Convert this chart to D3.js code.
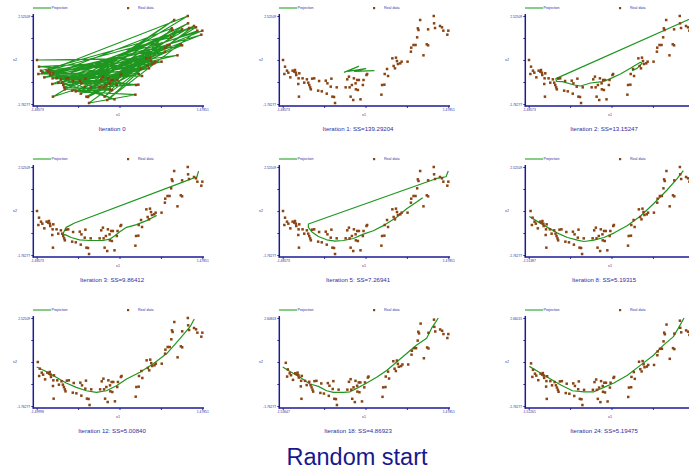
<!DOCTYPE html>
<html>
<head>
<meta charset="utf-8">
<script src="https://cdn.jsdelivr.net/npm/d3@7"></script>
<style>
  html, body { margin: 0; padding: 0; background: #fff; }
  svg { display: block; font-family: "Liberation Sans", Arial, sans-serif; }
</style>
</head>
<body>
<svg id="chart" width="689" height="472"></svg>
<script>
// Observed data (x1, x2)
const realX = [-1.480,-1.444,-1.409,-1.456,-1.385,-1.349,-1.308,-1.278,-1.266,-1.249,-1.189,-1.243,-1.201,-1.130,-1.100,-1.207,-1.053,-1.029,-1.011,-0.994,-0.982,-0.958,-0.922,-1.195,-0.834,-0.851,-0.786,-0.715,-0.685,-0.697,-0.626,-0.614,-0.596,-0.567,-0.519,-0.549,-0.359,-0.330,-0.300,-0.288,-0.270,-0.247,-0.223,-0.211,-0.181,-0.176,-0.152,-0.140,-0.122,-0.093,-0.051,-0.039,0.014,0.026,0.281,0.293,0.334,0.340,0.382,0.400,0.477,0.500,0.524,0.542,0.560,0.577,0.619,0.643,0.749,0.809,0.815,0.856,0.892,0.921,0.933,0.945,0.975,1.034,1.093,1.117,1.117,1.218,1.224,1.241,1.330,1.366,1.390,1.461,1.479];
const realY = [0.381,0.056,-0.139,-0.301,-0.236,-0.464,-0.139,-0.187,-0.106,-0.236,-0.268,-0.350,-0.512,-0.512,-0.723,-0.788,-0.561,-0.723,-0.837,-0.951,-1.048,-0.528,-0.512,-1.405,-0.642,-1.113,-1.146,-0.626,-0.756,-1.259,-0.918,-0.528,-1.405,-1.422,-0.951,-1.714,-0.951,-0.561,-0.431,-0.951,-1.405,-0.837,-1.568,-0.512,-0.756,-1.048,-0.593,-1.081,-0.593,-1.535,-0.837,-0.593,-0.350,-0.301,-1.308,-0.837,-0.821,-0.301,-0.057,-0.398,0.462,0.089,-0.025,0.495,0.332,0.186,0.219,0.300,0.300,0.787,0.982,1.112,1.112,1.486,1.924,1.843,2.330,0.609,1.145,1.096,1.875,2.525,2.168,1.940,2.038,1.973,1.810,1.615,1.810];

// Panel titles and axis extents
const titles = ["Iteration 0", "Iteration 1: SS=139.29204", "Iteration 2: SS=13.15247",
  "Iteration 3: SS=9.86412", "Iteration 5: SS=7.26941", "Iteration 8: SS=5.19315",
  "Iteration 12: SS=5.00840", "Iteration 18: SS=4.86923", "Iteration 24: SS=5.19475"];
const xMins = [-1.48573, -1.48573, -1.48573, -1.48573, -1.48573, -1.51387, -1.49998, -1.53647, -1.52261];
const xMaxs = [1.47851, 1.47851, 1.47851, 1.47851, 1.47851, 1.47851, 1.47851, 1.47851, 1.47851];
const yMins = [-1.76277, -1.76277, -1.76277, -1.76277, -1.76277, -1.76277, -1.76277, -1.76277, -1.76277];
const yMaxs = [2.52509, 2.52509, 2.52509, 2.52509, 2.52509, 2.52509, 2.52509, 2.60803, 2.66015];
const xMinLabels = ["-1.48573", "-1.48573", "-1.48573", "-1.48573", "-1.48573", "-1.51387", "-1.49998", "-1.53647", "-1.52261"];
const xMaxLabels = ["1.47851", "1.47851", "1.47851", "1.47851", "1.47851", "1.47851", "1.47851", "1.47851", "1.47851"];
const yMinLabels = ["-1.76277", "-1.76277", "-1.76277", "-1.76277", "-1.76277", "-1.76277", "-1.76277", "-1.76277", "-1.76277"];
const yMaxLabels = ["2.52509", "2.52509", "2.52509", "2.52509", "2.52509", "2.52509", "2.52509", "2.60803", "2.66015"];
const legendLabels = ["Projection", "Real data"];
const axisTitles = ["x1", "x2"];
const footer = "Random start";

// Iteration 0: random assignment of projection nodes to data points (visit order)
const startOrder = [0, 60, 14, 77, 3, 52, 23, 81, 8, 45, 19, 70, 33, 66, 5, 88, 27, 58, 40, 74, 11, 63, 36, 85, 2, 49, 17, 72, 29, 61, 43, 79, 7, 55, 21, 68, 38, 83, 13, 47, 25, 76, 31, 57, 1, 64, 42, 86, 16, 53, 34, 71, 9, 59, 22, 80, 46, 67, 4, 50, 28, 75, 37, 62, 12, 87, 20, 56, 44, 73, 6, 65, 30, 82, 18, 51, 39, 69, 10, 78, 26, 54, 35, 84, 15, 48, 24, 41, 32];

// Projection curves for later iterations
const proj1 = [[-0.389,-0.220],[-0.128,0.073],[-0.318,-0.171],[0.000,-0.041],[-0.199,-0.171],[0.156,-0.139]];
const proj2 = [[1.532,2.541],[-1.000,-0.528],[-0.988,-0.658],[-0.881,-0.675],[-0.673,-0.837],[-0.555,-0.886],[-0.377,-0.740],[-0.170,-0.675],[-0.051,-0.561],[0.156,-0.301],[0.334,-0.025],[0.512,0.268],[0.542,0.219],[0.453,-0.025],[0.364,-0.139]];
const proj3 = [[1.412,2.328],[1.382,2.049],[1.142,1.802],[-0.808,-0.202],[-0.958,-0.416],[-1.018,-0.744],[-0.958,-0.793],[-0.868,-0.908],[-0.718,-1.023],[-0.538,-1.056],[-0.298,-1.056],[-0.178,-0.991],[-0.088,-0.826],[0.002,-0.629],[0.122,-0.416],[0.302,-0.284],[0.482,-0.087],[0.662,0.159]];
const proj5 = [[1.478,2.328],[1.437,2.049],[1.270,1.967],[-1.026,-0.251],[-1.026,-0.416],[-0.967,-0.629],[-0.848,-0.859],[-0.698,-1.023],[-0.549,-1.089],[-0.400,-1.056],[-0.221,-0.958],[-0.042,-0.744],[0.136,-0.580],[0.315,-0.333],[0.554,0.077],[0.733,0.488],[0.912,0.817],[1.019,1.030]];
const proj8 = [[-1.502,0.110],[-1.352,-0.136],[-1.173,-0.416],[-0.993,-0.695],[-0.814,-0.909],[-0.634,-1.040],[-0.515,-1.106],[-0.335,-1.040],[-0.155,-0.909],[0.024,-0.695],[0.264,-0.334],[0.503,0.127],[0.742,0.734],[0.982,1.392],[1.161,1.934],[1.281,2.345]];
const proj12 = [[-1.500,0.134],[-1.331,-0.081],[-1.150,-0.361],[-0.969,-0.641],[-0.789,-0.856],[-0.608,-1.021],[-0.427,-1.103],[-0.246,-1.021],[-0.065,-0.773],[0.116,-0.443],[0.357,-0.114],[0.598,0.299],[0.839,0.793],[1.081,1.535],[1.262,2.113],[1.334,2.475]];
const proj18 = [[-1.536,0.170],[-1.403,-0.048],[-1.221,-0.334],[-1.039,-0.670],[-0.887,-0.788],[-0.736,-1.006],[-0.614,-1.090],[-0.432,-1.090],[-0.311,-1.057],[-0.190,-0.889],[-0.038,-0.670],[0.174,-0.334],[0.356,0.002],[0.538,0.423],[0.720,0.843],[0.902,1.263],[1.084,1.599],[1.175,2.104],[1.297,2.608]];
const proj24 = [[-1.511,0.228],[-1.331,-0.062],[-1.150,-0.368],[-0.940,-0.708],[-0.730,-0.997],[-0.520,-1.049],[-0.340,-1.049],[-0.160,-0.827],[0.020,-0.606],[0.260,-0.232],[0.500,0.278],[0.740,0.789],[0.920,1.299],[1.100,1.724],[1.190,2.150],[1.292,2.660]];

const realPts = realX.map((x, i) => [x, realY[i]]);
const projections = [startOrder.map(i => realPts[i]), proj1, proj2, proj3, proj5, proj8, proj12, proj18, proj24];

const AXIS = "#1b1b96";
const TEXT = "#2e2ea2";
const GREEN = "#1f961f";
const BROWN = "#8a4514";

const svg = d3.select("#chart");

titles.forEach((title, k) => {
  const col = k % 3, row = Math.floor(k / 3);
  const ox = col * 246, oy = row * 151;
  const g = svg.append("g").attr("transform", `translate(${ox},${oy})`);

  const x = d3.scaleLinear().domain([xMins[k], xMaxs[k]]).range([36.7, 202.3]);
  const y = d3.scaleLinear().domain([yMins[k], yMaxs[k]]).range([104, 16]);

  // Legend
  g.append("line").attr("x1", 33).attr("x2", 51).attr("y1", 8).attr("y2", 8)
    .attr("stroke", "#3aaa3a").attr("stroke-width", 1.2);
  g.append("text").attr("x", 51.5).attr("y", 9.2).attr("font-size", 3.6).attr("fill", TEXT).text(legendLabels[0]);
  g.append("rect").attr("x", 127).attr("y", 7).attr("width", 2.2).attr("height", 2.2).attr("fill", BROWN);
  g.append("text").attr("x", 138).attr("y", 9.2).attr("font-size", 3.6).attr("fill", TEXT).text(legendLabels[1]);

  // Axes
  const xTicks = d3.range(5).map(i => xMins[k] + i * (xMaxs[k] - xMins[k]) / 4);
  const yTicks = d3.range(5).map(i => yMins[k] + i * (yMaxs[k] - yMins[k]) / 4);
  const xAxis = d3.axisBottom(x).tickValues(xTicks).tickSize(2).tickPadding(0.6)
    .tickFormat((d, i) => i === 0 ? xMinLabels[k] : (i === 4 ? xMaxLabels[k] : ""));
  const yAxis = d3.axisLeft(y).tickValues(yTicks).tickSize(2).tickPadding(1.2)
    .tickFormat((d, i) => i === 0 ? yMinLabels[k] : (i === 4 ? yMaxLabels[k] : ""));

  const gx = g.append("g").attr("transform", "translate(0,106)").call(xAxis);
  const gy = g.append("g").attr("transform", "translate(33.3,0)").call(yAxis);
  [gx, gy].forEach(a => {
    a.select(".domain").remove();
    a.selectAll(".tick line").attr("stroke", AXIS).attr("stroke-width", 0.9);
    a.selectAll(".tick text").attr("fill", TEXT).attr("font-size", 3.3).attr("font-family", "Liberation Sans, Arial, sans-serif");
  });
  g.append("line").attr("x1", 33.3).attr("x2", 33.3).attr("y1", 14).attr("y2", 106.6)
    .attr("stroke", AXIS).attr("stroke-width", 1.5);
  g.append("line").attr("x1", 32.6).attr("x2", 204).attr("y1", 106).attr("y2", 106)
    .attr("stroke", AXIS).attr("stroke-width", 1.5);

  g.append("text").attr("x", 118).attr("y", 115.5).attr("text-anchor", "middle")
    .attr("font-size", 3.6).attr("fill", TEXT).text(axisTitles[0]);
  g.append("text").attr("x", 15).attr("y", 61.2).attr("text-anchor", "middle")
    .attr("font-size", 3.6).attr("fill", TEXT).text(axisTitles[1]);

  // Projection curve
  const line = d3.line().x(d => x(d[0])).y(d => y(d[1]));
  g.append("path").attr("d", line(projections[k])).attr("fill", "none")
    .attr("stroke", GREEN).attr("stroke-width", k === 0 ? 1.1 : 1.2).attr("stroke-linejoin", "round");

  // Real data
  g.append("g").selectAll("rect").data(realPts).join("rect")
    .attr("x", d => x(d[0]) - 1.25).attr("y", d => y(d[1]) - 1.25)
    .attr("width", 2.5).attr("height", 2.5).attr("fill", BROWN);

  // Panel title
  g.append("text").attr("x", 112).attr("y", 130.8).attr("text-anchor", "middle")
    .attr("font-size", 6.1).attr("fill", TEXT).text(title);
});

svg.append("text").attr("x", 357).attr("y", 465).attr("text-anchor", "middle")
  .attr("font-size", 23.5).attr("fill", "#18188c").text(footer);
</script>
</body>
</html>
